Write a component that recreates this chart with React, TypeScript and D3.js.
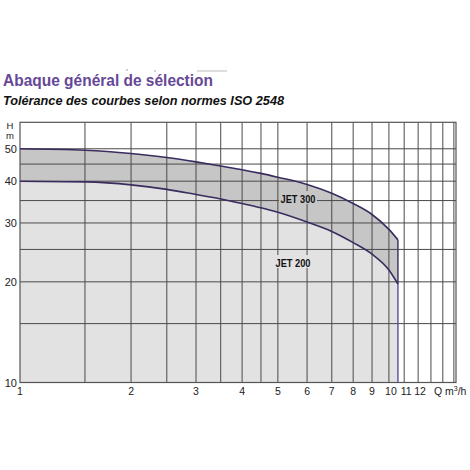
import React from "react";
import * as d3 from "d3";

const flowQ = [1, 1.5, 2, 2.5, 3, 3.5, 4, 4.5, 5, 6, 7, 8, 9, 10, 10.58];
const jet300H = [50, 49.5, 48.4, 47.1, 45.7, 44.4, 43.3, 42.2, 41.1, 39.1, 36.8, 34.3, 31.8, 28.7, 26.7];
const jet200H = [40, 39.8, 39.0, 37.8, 36.5, 35.4, 34.3, 33.3, 32.3, 30.2, 28.3, 26.2, 24.2, 21.7, 19.7];

const xGrid = [1.5, 2, 2.5, 3, 3.5, 4, 4.5, 5, 6, 7, 8, 9, 10, 11, 12, 13, 14, 15];
const yGrid = [15, 20, 25, 30, 35, 40, 45, 50];
const xTickLabels = [1, 2, 3, 4, 5, 6, 7, 8, 9, 10, 11, 12];
const yTickLabels = [10, 20, 30, 40, 50];

const title = "Abaque général de sélection";
const subtitle = "Tolérance des courbes selon normes ISO 2548";
const seriesLabels = ["JET 300", "JET 200"];

export default function App() {
  const x = d3.scaleLog().domain([1, 15.2]).range([20, 456]);
  const y = d3.scaleLog().domain([10, 60]).range([382.5, 122.3]);
  const x0 = x(1), x1 = x(15.2), y0 = y(10), y1 = y(60);

  const up = flowQ.map((q, i) => [q, jet300H[i]] as [number, number]);
  const lo = flowQ.map((q, i) => [q, jet200H[i]] as [number, number]);
  const line = d3.line<[number, number]>().x(d => x(d[0])).y(d => y(d[1])).curve(d3.curveMonotoneX);

  const upPath = line(up)!;
  const loPath = line(lo)!;
  const loRev = line([...lo].reverse())!;
  const qEnd = flowQ[flowQ.length - 1];

  const bandPath = upPath + "L" + loRev.slice(1) + "Z";
  const belowPath = loPath + `L${x(qEnd)},${y0}L${x0},${y0}Z`;

  const font = "Liberation Sans, Arial, sans-serif";
  const curveColor = "#3a2c5e";

  return (
    <svg width={470} height={470} style={{ position: "absolute", left: 0, top: 0, background: "#fff" }} fontFamily={font}>
      <rect x={0} y={0} width={470} height={470} fill="#fff" />
      {/* scan artifacts */}
      <circle cx={127} cy={70} r={0.8} fill="#999" />
      <circle cx={155} cy={71} r={0.8} fill="#999" />
      <line x1={197} x2={227} y1={71} y2={71} stroke="#aaa" strokeWidth={0.8} />

      <text x={3} y={86} fontSize={17} fontWeight="bold" fill="#674797" textLength={210} lengthAdjust="spacingAndGlyphs">{title}</text>
      <text x={3} y={105} fontSize={12.5} fontWeight="bold" fontStyle="italic" fill="#111" textLength={281} lengthAdjust="spacingAndGlyphs">{subtitle}</text>

      <path d={belowPath} fill="#e2e2e2" />
      <path d={bandPath} fill="#c6c6c6" />

      {yGrid.map(v => (
        <line key={"h" + v} x1={x0} x2={x1} y1={y(v)} y2={y(v)} stroke="#4a4a4a" strokeWidth={1} />
      ))}
      {xGrid.map(v => (
        <line key={"v" + v} x1={x(v)} x2={x(v)} y1={y0} y2={y1} stroke="#4a4a4a" strokeWidth={1} />
      ))}
      <rect x={x0} y={y1} width={x1 - x0} height={y0 - y1} fill="none" stroke="#555" strokeWidth={1.2} />

      <path d={upPath} fill="none" stroke={curveColor} strokeWidth={1.6} />
      <path d={loPath} fill="none" stroke={curveColor} strokeWidth={1.6} />
      <line x1={x(qEnd)} x2={x(qEnd)} y1={y(jet300H[jet300H.length - 1])} y2={y(jet200H[jet200H.length - 1])} stroke={curveColor} strokeWidth={1.4} />
      <line x1={x(qEnd)} x2={x(qEnd)} y1={y(jet200H[jet200H.length - 1])} y2={y0} stroke="#5b4b9c" strokeWidth={1.4} />

      <rect x={279} y={191} width={38} height={13} fill="#c6c6c6" />
      <text x={298} y={202.5} fontSize={11.5} fontWeight="bold" textAnchor="middle" fill="#111" textLength={35} lengthAdjust="spacingAndGlyphs">{seriesLabels[0]}</text>
      <rect x={274} y={255} width={38} height={13} fill="#e2e2e2" />
      <text x={293} y={266.5} fontSize={11.5} fontWeight="bold" textAnchor="middle" fill="#111" textLength={35} lengthAdjust="spacingAndGlyphs">{seriesLabels[1]}</text>

      {yTickLabels.map(v => (
        <text key={"yl" + v} x={17} y={y(v) + 4} fontSize={11} textAnchor="end" fill="#222">{v}</text>
      ))}
      <text x={10} y={129} fontSize={9.5} textAnchor="middle" fill="#222">H</text>
      <text x={10} y={139} fontSize={9.5} textAnchor="middle" fill="#222">m</text>

      {xTickLabels.map(v => (
        <text key={"xl" + v} x={x(v) + (v >= 10 ? 2 : 0)} y={395} fontSize={10.5} textAnchor="middle" fill="#222">{v}</text>
      ))}
      <text x={438} y={395} fontSize={10.5} textAnchor="middle" fill="#222">Q</text>
      <text x={445} y={395} fontSize={10.5} fill="#222">m<tspan dy={-4} fontSize={7}>3</tspan><tspan dy={4}>/h</tspan></text>
    </svg>
  );
}
